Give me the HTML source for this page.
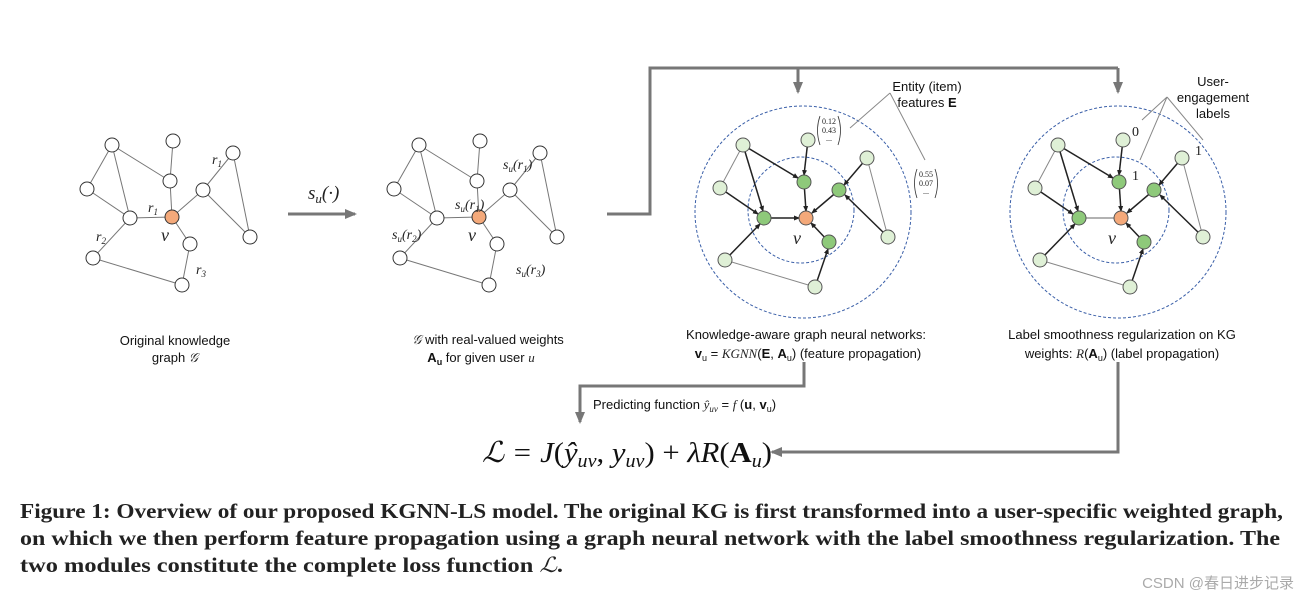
<!DOCTYPE html>
<html><head><meta charset="utf-8"><style>
body{margin:0;background:#fff;width:1308px;height:601px;overflow:hidden}
svg{display:block}
.s{font-family:"Liberation Sans",sans-serif;font-size:13px;fill:#111}
.m{font-family:"Liberation Serif",serif;font-style:italic;fill:#222}
.cap{font-family:"Liberation Serif",serif;font-weight:bold;font-size:21px;fill:#222}
</style></head><body>
<svg width="1308" height="601" viewBox="0 0 1308 601">
<defs>
<marker id="a" markerWidth="6" markerHeight="6" refX="5" refY="3" orient="auto" markerUnits="userSpaceOnUse"><path d="M0,0.5 L6,3 L0,5.5z" fill="#222"/></marker>
<marker id="g" markerWidth="12" markerHeight="12" refX="10" refY="6" orient="auto" markerUnits="userSpaceOnUse"><path d="M0,1 L12,6 L0,11z" fill="#777"/></marker>
</defs>
<g stroke="#777" stroke-width="1">
<path d="M112,145L87,189M112,145L130,218M112,145L170,181M173,141L170,181M170,181L172,217M87,189L130,218M130,218L172,217M172,217L203,190M203,190L233,153M233,153L250,237M203,190L250,237M172,217L190,244M190,244L182,285M130,218L93,258M93,258L182,285"/>
<path transform="translate(307,0)" d="M112,145L87,189M112,145L130,218M112,145L170,181M173,141L170,181M170,181L172,217M87,189L130,218M130,218L172,217M172,217L203,190M203,190L233,153M233,153L250,237M203,190L250,237M172,217L190,244M190,244L182,285M130,218L93,258M93,258L182,285"/>
</g>
<g stroke="#333" stroke-width="1" fill="#fff">
<g id="n1">
<circle cx="112" cy="145" r="7"/><circle cx="173" cy="141" r="7"/><circle cx="87" cy="189" r="7"/><circle cx="170" cy="181" r="7"/><circle cx="233" cy="153" r="7"/><circle cx="203" cy="190" r="7"/><circle cx="130" cy="218" r="7"/><circle cx="190" cy="244" r="7"/><circle cx="250" cy="237" r="7"/><circle cx="93" cy="258" r="7"/><circle cx="182" cy="285" r="7"/>
<circle cx="172" cy="217" r="7" fill="#f4a97a"/>
</g>
<use href="#n1" transform="translate(307,0)"/>
</g>
<g class="m" font-size="14">
<text x="148" y="212">r<tspan font-size="9" dy="3">1</tspan></text>
<text x="212" y="164">r<tspan font-size="9" dy="3">1</tspan></text>
<text x="96" y="241">r<tspan font-size="9" dy="3">2</tspan></text>
<text x="196" y="274">r<tspan font-size="9" dy="3">3</tspan></text>
<text x="161" y="241" font-size="18">v</text>
<text x="468" y="241" font-size="18">v</text>
<text x="503" y="169">s<tspan font-size="9" dy="3">u</tspan><tspan dy="-3">(r</tspan><tspan font-size="9" dy="3">1</tspan><tspan dy="-3">)</tspan></text>
<text x="455" y="209">s<tspan font-size="9" dy="3">u</tspan><tspan dy="-3">(r</tspan><tspan font-size="9" dy="3">1</tspan><tspan dy="-3">)</tspan></text>
<text x="392" y="239">s<tspan font-size="9" dy="3">u</tspan><tspan dy="-3">(r</tspan><tspan font-size="9" dy="3">2</tspan><tspan dy="-3">)</tspan></text>
<text x="516" y="274">s<tspan font-size="9" dy="3">u</tspan><tspan dy="-3">(r</tspan><tspan font-size="9" dy="3">3</tspan><tspan dy="-3">)</tspan></text>
<text x="308" y="199" font-size="19">s<tspan font-size="13" dy="4">u</tspan><tspan dy="-4">(·)</tspan></text>
</g>
<line x1="288" y1="214" x2="355" y2="214" stroke="#777" stroke-width="3" marker-end="url(#g)"/>
<g stroke="#777" stroke-width="3" fill="none">
<path d="M607,214H650V68H1118"/>
<line x1="798" y1="68" x2="798" y2="92" marker-end="url(#g)"/>
<line x1="1118" y1="68" x2="1118" y2="92" marker-end="url(#g)"/>
<path d="M804,362V386H580V422" marker-end="url(#g)"/>
<path d="M1118,362V452H772" marker-end="url(#g)"/>
</g>
<g fill="none" stroke="#3a5fa8" stroke-width="1" stroke-dasharray="3,2">
<ellipse cx="803" cy="212" rx="108" ry="106"/><circle cx="801" cy="210" r="53"/>
<ellipse cx="1118" cy="212" rx="108" ry="106"/><circle cx="1116" cy="210" r="53"/>
</g>
<g id="g3">
<g stroke="#888" stroke-width="1"><path d="M743,145L720,188M867,158L888,237M725,260L815,287"/></g>
<g stroke="#222" stroke-width="1.5" marker-end="url(#a)">
<line x1="743" y1="145" x2="763" y2="211"/><line x1="743" y1="145" x2="798" y2="178"/>
<line x1="720" y1="188" x2="758" y2="214"/><line x1="808" y1="140" x2="804" y2="175"/>
<line x1="804" y1="182" x2="806" y2="211"/><line x1="839" y1="190" x2="812" y2="213"/>
<line x1="867" y1="158" x2="844" y2="185"/><line x1="888" y1="237" x2="845" y2="195"/>
<line x1="829" y1="242" x2="811" y2="223"/><line x1="815" y1="287" x2="828" y2="249"/>
<line x1="725" y1="260" x2="760" y2="224"/>
</g>
</g>
<line x1="764" y1="218" x2="799" y2="218" stroke="#222" stroke-width="1.5" marker-end="url(#a)"/>
<use href="#g3" transform="translate(315,0)"/>
<line x1="1079" y1="218" x2="1114" y2="218" stroke="#999" stroke-width="1.5"/>
<g id="n3" stroke="#555" stroke-width="1">
<g fill="#dff0d6"><circle cx="743" cy="145" r="7"/><circle cx="808" cy="140" r="7"/><circle cx="867" cy="158" r="7"/><circle cx="720" cy="188" r="7"/><circle cx="888" cy="237" r="7"/><circle cx="725" cy="260" r="7"/><circle cx="815" cy="287" r="7"/></g>
<g fill="#8ec97a"><circle cx="804" cy="182" r="7"/><circle cx="839" cy="190" r="7"/><circle cx="764" cy="218" r="7"/><circle cx="829" cy="242" r="7"/></g>
<circle cx="806" cy="218" r="7" fill="#f4a97a"/>
</g>
<use href="#n3" transform="translate(315,0)"/>
<text class="m" x="793" y="244" font-size="18">v</text>
<text class="m" x="1108" y="244" font-size="18">v</text>
<g stroke="#888" stroke-width="1" fill="none">
<path d="M890,93L850,128M890,93L925,160"/>
<path d="M1167,97L1142,120M1167,97L1140,160M1167,97L1203,140"/>
</g>
<text class="s" x="927" y="91" font-size="12" text-anchor="middle">Entity (item)</text>
<text class="s" x="927" y="107" font-size="12" text-anchor="middle">features <tspan font-weight="bold">E</tspan></text>
<g font-family="Liberation Serif,serif" font-size="8" fill="#222" text-anchor="middle">
<text x="829" y="124">0.12</text><text x="829" y="133">0.43</text><text x="829" y="141">...</text>
<text x="926" y="177">0.55</text><text x="926" y="186">0.07</text><text x="926" y="194">...</text>
</g>
<g fill="none" stroke="#333" stroke-width="0.8">
<path d="M820,116Q815,130 820,145M838,116Q843,130 838,145"/>
<path d="M917,169Q912,183 917,198M935,169Q940,183 935,198"/>
</g>
<text class="s" x="1213" y="86" font-size="12" text-anchor="middle">User-</text>
<text class="s" x="1213" y="102" font-size="12" text-anchor="middle">engagement</text>
<text class="s" x="1213" y="118" font-size="12" text-anchor="middle">labels</text>
<g font-family="Liberation Serif,serif" font-size="14" fill="#222">
<text x="1132" y="136">0</text><text x="1132" y="180">1</text><text x="1195" y="155">1</text>
</g>
<g class="s" text-anchor="middle">
<text x="175" y="345">Original knowledge</text>
<text x="175" y="362">graph <tspan class="m">𝒢</tspan></text>
<text x="488" y="344"><tspan class="m">𝒢</tspan> with real-valued weights</text>
<text x="481" y="362"><tspan font-weight="bold">A</tspan><tspan font-size="9" font-weight="bold" dy="3">u</tspan><tspan dy="-3"> for given user </tspan><tspan class="m">u</tspan></text>
<text x="806" y="339">Knowledge-aware graph neural networks:</text>
<text x="808" y="358"><tspan font-weight="bold">v</tspan><tspan font-size="9" dy="3">u</tspan><tspan dy="-3"> = </tspan><tspan class="m">KGNN</tspan>(<tspan font-weight="bold">E</tspan>, <tspan font-weight="bold">A</tspan><tspan font-size="9" dy="3">u</tspan><tspan dy="-3">) (feature propagation)</tspan></text>
<text x="1122" y="339">Label smoothness regularization on KG</text>
<text x="1122" y="358">weights: <tspan class="m">R</tspan>(<tspan font-weight="bold">A</tspan><tspan font-size="9" dy="3">u</tspan><tspan dy="-3">) (label propagation)</tspan></text>
</g>
<text class="s" x="593" y="409">Predicting function <tspan class="m">ŷ</tspan><tspan class="m" font-size="9" dy="3">uv</tspan><tspan dy="-3"> = </tspan><tspan class="m">f</tspan> (<tspan font-weight="bold">u</tspan>, <tspan font-weight="bold">v</tspan><tspan font-size="9" dy="3">u</tspan><tspan dy="-3">)</tspan></text>
<text x="482" y="462" font-family="Liberation Serif,serif" font-size="29" fill="#111" textLength="290" lengthAdjust="spacingAndGlyphs"><tspan font-style="italic">ℒ = J</tspan>(<tspan font-style="italic">ŷ</tspan><tspan font-style="italic" font-size="19" dy="5">uv</tspan><tspan dy="-5">, </tspan><tspan font-style="italic">y</tspan><tspan font-style="italic" font-size="19" dy="5">uv</tspan><tspan dy="-5">) + </tspan><tspan font-style="italic">λR</tspan>(<tspan font-weight="bold">A</tspan><tspan font-style="italic" font-size="19" dy="5">u</tspan><tspan dy="-5">)</tspan></text>
<text class="cap" x="20" y="518" textLength="1263" lengthAdjust="spacingAndGlyphs">Figure 1: Overview of our proposed KGNN-LS model. The original KG is first transformed into a user-specific weighted graph,</text>
<text class="cap" x="20" y="545" textLength="1260" lengthAdjust="spacingAndGlyphs">on which we then perform feature propagation using a graph neural network with the label smoothness regularization. The</text>
<text class="cap" x="20" y="572" textLength="543" lengthAdjust="spacingAndGlyphs">two modules constitute the complete loss function <tspan font-style="italic" font-weight="normal">ℒ</tspan>.</text>
<text x="1294" y="588" text-anchor="end" font-family="Liberation Sans,Noto Sans CJK SC,sans-serif" font-size="15" fill="#aaa">CSDN @春日进步记录</text>
</svg>
</body></html>
